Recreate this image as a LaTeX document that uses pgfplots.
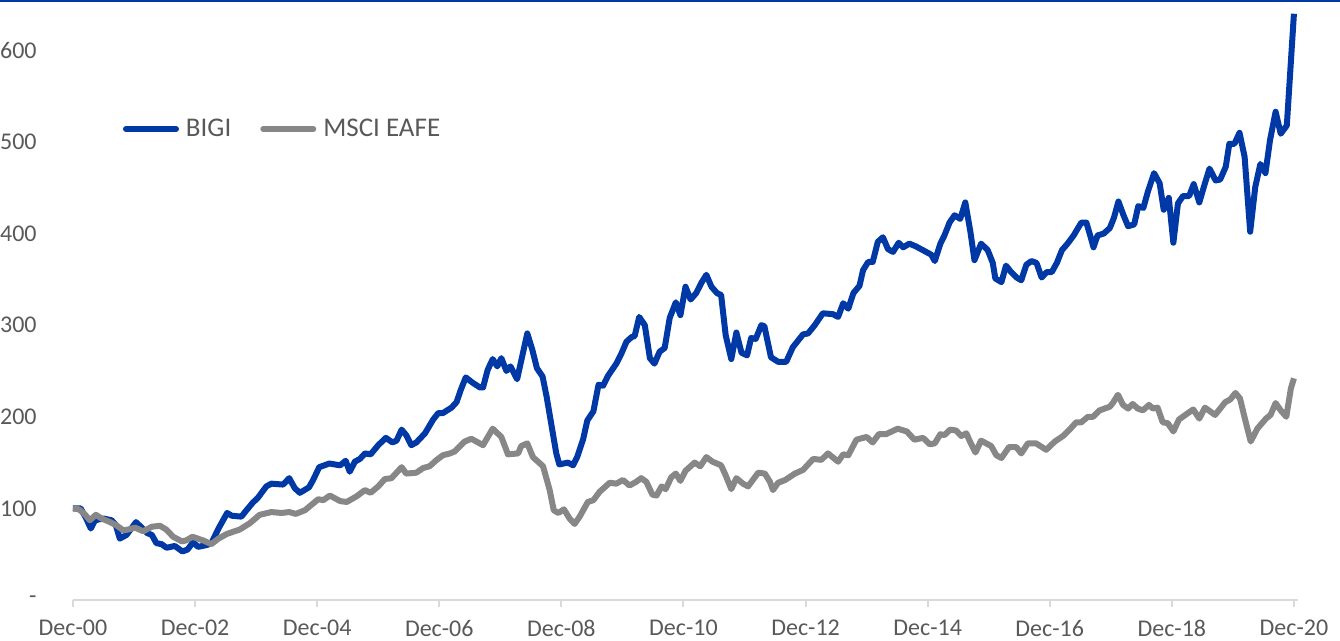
\documentclass[border=0pt]{standalone}
\usepackage{fontspec}
\setmainfont{Carlito}
\usepackage{pgfplots}
\pgfplotsset{compat=1.18}

\definecolor{bigi}{RGB}{0,57,166}
\definecolor{eafe}{RGB}{135,135,135}
\definecolor{txt}{RGB}{89,89,89}
\definecolor{axgray}{RGB}{217,217,217}

% month index (0 = Dec-00) and index level (start = 100)
\pgfplotstableread{
m v
0 100
1.5 100
2.6 89
3.5 78
4.3 87
6 89
7.6 87
8.4 82
9.2 67
10.5 71
12.4 85
13.5 79
14.6 73
15.5 71
16.4 62
17.4 61
18.4 57
20 59
21.5 53
22.5 55
23.6 63
24.6 58
26.3 60
27.2 62
28.6 78
30.3 95
31.2 92
33.1 91
34.1 98
35.3 106
36.4 112
38 124
39 127
41.3 126
42.5 133
43.6 122
44.6 117
46.4 123
47.2 131
48.4 145
50.4 149
52.5 147
53.6 152
54.4 140
55.4 151
56.4 154
57.4 160
58.5 159
60 169
61.5 177
62.8 172
63.6 174
64.6 186
65.5 180
66.5 169
67.5 172
69.2 182
70.8 197
71.8 204
72.7 204
74.4 210
75.4 216
76.2 229
77.2 243
78.6 237
80 232
80.6 232
81.5 251
82.5 263
83.4 255
84.2 264
85.2 250
86 255
87.3 241
88.3 266
89.3 291
90.3 273
91.2 253
92.3 244
93.1 222
94.2 186
95 160
95.6 148
97.3 150
98.3 147
99.1 156
100.3 176
101.1 196
102.3 206
103.3 235
104.2 234
105.2 245
106.8 258
107.8 269
108.8 282
109.8 287
110.4 288
111.3 309
112.4 300
113.4 264
114.3 258
115.3 271
116.3 275
117.3 308
118.5 325
119.4 311
120.4 342
121.4 328
122.5 335
123.5 346
124.5 355
125.5 342
126.6 335
127.4 333
128.3 289
129.4 263
130.4 292
131.4 270
132.5 267
133.3 286
134.2 285
135.3 300
135.9 299
137.2 265
138.6 260
140.2 260
141.5 276
143.5 290
144.5 291
145.8 300
147.4 313
149.4 312
150.4 309
151.4 324
152.4 318
153.4 335
154.6 343
155.3 360
156.3 369
157.2 369
158.2 391
159.2 396
160.2 383
161.2 380
162.3 390
163.2 385
164.4 389
165.7 386
167.7 380
168.7 377
169.4 370
170.5 389
171.3 398
172.3 412
173.3 420
174.4 416
175.4 434
176.4 402
177.2 371
178.5 389
179.8 382
180.8 368
181.3 351
182.5 347
183.4 365
184.4 358
185.5 352
186.4 349
187.4 366
188.4 370
189.4 368
190.4 352
191.4 358
192.4 358
193.4 368
194.4 382
195.5 389
196.7 398
198.2 412
199.2 412
200 397
200.6 385
201.4 398
202.6 400
203.8 406
204.6 417
205.5 435
206.5 420
207.4 408
208.6 410
209.4 430
210.4 428
211.3 446
212.5 466
213.6 455
214.4 426
215.4 439
216.3 390
217.2 433
218.2 441
219.4 441
220.3 454
221.4 434
222.4 453
223.4 471
224.6 458
225.5 459
226.6 473
227.3 498
228.3 498
229.3 510
230.3 484
231.4 402
232.4 451
233.4 476
234.4 466
235.3 502
236.4 533
237.4 509
238.6 518
240 640
}\bigidata

\pgfplotstableread{
m v
0 100
1.2 99
2.4 93
3.3 87
4.5 93
5.6 89
7.3 85
8.4 82
9.9 76
10.9 77
12.2 79
13.8 75
15.5 80
17.1 81
18.3 77
19.7 69
21.4 64
22.2 65
23.5 69
25.6 65
27.2 61
28.6 67
30.2 72
32.8 77
34.8 84
36.7 93
39 96
41 95
42.5 96
43.8 94
45.6 98
46.9 104
48.2 110
49.2 109
50.5 114
52.5 108
53.8 107
55.7 113
57.4 120
58.5 117
60 124
61.3 132
62.6 133
64.6 145
65.5 138
67.5 139
68.8 144
70.1 146
71.5 153
72.7 158
74.1 160
75 162
77 173
78.3 176
80.6 169
82.5 187
84.2 178
85.5 159
87.5 160
88.1 168
89.3 171
90.4 156
92.4 146
93.7 120
94.5 98
95.4 95
96.5 99
97.6 89
98.6 83
99.6 91
101.2 107
102.3 109
103.5 118
105.5 128
106.8 127
108.1 131
109.4 125
110.7 129
111.7 133
112.7 129
113.9 115
114.7 114
115.7 124
116.5 121
117.6 134
118.5 138
119.4 130
120.4 141
122.2 150
123.3 146
124.5 156
125.7 151
127.4 147
128.3 136
129.4 121
130.4 133
131.7 127
132.7 124
134.7 139
136 138
137 129
137.6 120
138.6 128
140 131
141.9 138
143.5 142
145.5 154
147.1 153
148.4 160
150.4 151
151.4 159
152.4 158
154 175
156 178
157.2 172
158.4 181
159.8 181
162.1 187
163.9 184
165.4 175
167.1 177
168.4 170
169.4 171
170.5 181
171.3 180
172.4 186
173.6 185
174.6 179
175.6 182
176.4 172
177.4 161
178.5 174
180.5 168
181.5 158
182.5 155
184 167
185.4 167
186.4 160
187.7 171
189.3 171
191.3 164
193 173
194.6 179
195.9 186
197.2 194
198.2 194
199.5 200
200.5 200
201.8 207
203.8 211
204.4 215
205.4 224
206.4 213
207.4 209
208.3 214
209.3 209
210.3 207
211.5 213
212.3 209
213.2 210
214.2 194
215.2 193
216.3 184
217.4 197
218.9 203
220.2 208
221.4 198
222.5 210
224.5 202
226.5 216
227.5 219
228.5 226
229.4 220
230.4 197
231.5 173
232.8 187
234.5 198
235.4 202
236.4 215
237.4 207
238.5 200
239.4 231
240 242
}\eafedata

\begin{document}
\begin{tikzpicture}
\useasboundingbox (-36.5pt,-20.5pt) rectangle (633.5pt,300pt);
\draw[bigi, line width=1pt] (-36.5pt,299.5pt) -- (633.5pt,299.5pt);
\begin{axis}[
    at={(0,0)}, anchor=south west,
    scale only axis,
    width=612.5pt, height=300pt,
    xmin=0, xmax=240.8,
    ymin=0, ymax=655,
    clip=false,
    axis x line*=bottom,
    axis y line*=left,
    x axis line style={draw=axgray, line width=1pt},
    y axis line style={draw=none},
    xtick={0,24,...,240},
    xticklabels={Dec-00,Dec-02,Dec-04,Dec-06,Dec-08,Dec-10,Dec-12,Dec-14,Dec-16,Dec-18,Dec-20},
    ytick={0,100,...,600},
    yticklabels={-,100,200,300,400,500,600},
    tick align=outside,
    major tick length=3.5pt,
    xtick style={draw=axgray, line width=1pt},
    ytick style={draw=none},
    ticklabel style={font=\fontsize{12}{14}\selectfont, text=txt, inner sep=0pt},
    xticklabel style={anchor=north, yshift=-6.3pt},
    yticklabel style={anchor=east, xshift=-14.5pt},
    legend columns=2,
    legend image code/.code={\draw[#1, line cap=round] (0pt,0pt) -- (25pt,0pt);},
    legend style={at={(axis description cs:0.0408,0.785)}, anchor=west,
        draw=none, fill=none, inner sep=0pt, outer sep=0pt,
        font=\fontsize{13.5}{16}\selectfont, text=txt,
        nodes={inner sep=0pt}, cells={anchor=west},
        /tikz/every odd column/.append style={column sep=3.5pt},
        /tikz/every even column/.append style={column sep=14.5pt}},
]
\addplot[bigi, line width=3pt, line join=round, no markers] table[x=m, y=v] {\bigidata};
\addlegendentry{BIGI}
\addplot[eafe, line width=3pt, line join=round, no markers] table[x=m, y=v] {\eafedata};
\addlegendentry{MSCI EAFE}
\end{axis}
\end{tikzpicture}
\end{document}
